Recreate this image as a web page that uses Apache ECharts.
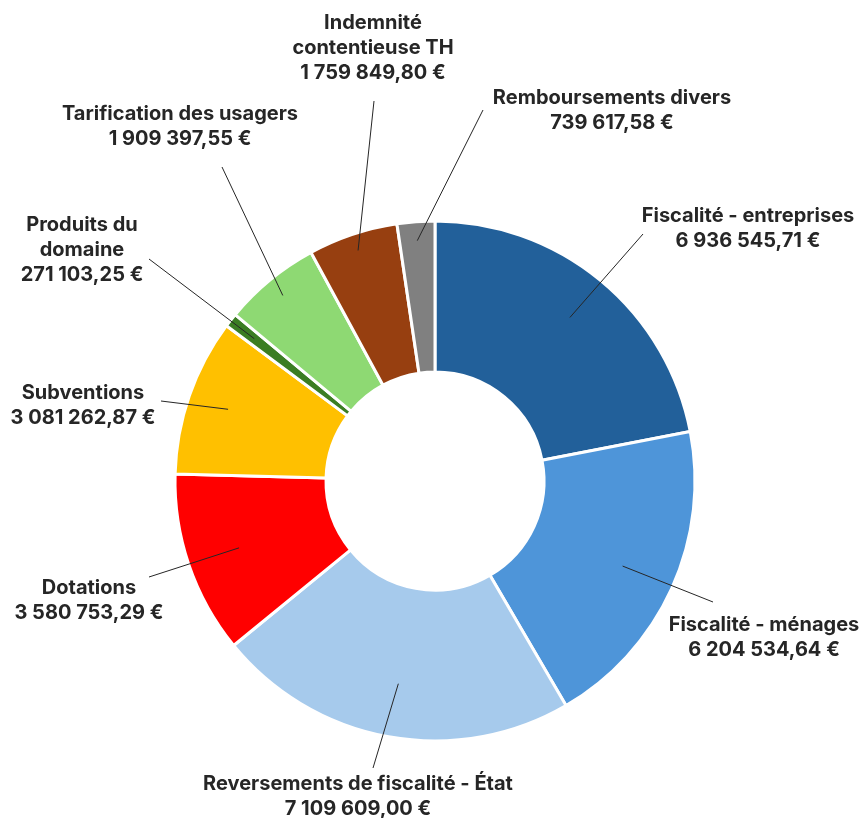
<!DOCTYPE html>
<html>
<head>
<meta charset="utf-8">
<title>Recettes</title>
<script src="https://cdn.jsdelivr.net/npm/echarts@6/dist/echarts.min.js"></script>
<style>
  html, body { margin: 0; padding: 0; background: #ffffff; }
  #chart { width: 868px; height: 818px; }
</style>
</head>
<body>
<div id="chart"></div>
<script>
// categories (line breaks as in the original labels)
const categories = [
  'Fiscalité - entreprises',
  'Fiscalité - ménages',
  'Reversements de fiscalité - État',
  'Dotations',
  'Subventions',
  'Produits du\ndomaine',
  'Tarification des usagers',
  'Indemnité\ncontentieuse TH',
  'Remboursements divers'
]
// montants en euros
const amounts = [
  6936545.71,
  6204534.64,
  7109609.00,
  3580753.29,
  3081262.87,
  271103.25,
  1909397.55,
  1759849.80,
  739617.58
]
const sliceColors = ['#22609a', '#4e95d9', '#a6caec', '#ff0000', '#ffc000', '#3b7d23', '#8ed973', '#973f10', '#808080']

// placement des étiquettes (centre du texte) et fin des traits de rappel, en px
const labelAt = [[748, 228], [764, 637], [358, 796], [89, 600], [83, 405], [82, 250], [180, 126], [373, 48], [612, 110]]
const lineEnd = [[643, 234], [713, 602], [373, 768], [149, 577], [161, 401], [149, 259], [222, 167], [374, 101], [483, 110]]
// rayon où démarre chaque trait de rappel
const lineStartR = [212, 206, 206, 207, 219, 230, 240, 243, 241]

const center = [435, 481]
const outerR = 260
const innerR = 109

// format français : 1 234 567,89 €
function euro (v) {
  const parts = v.toFixed(2).split('.')
  const ent = parts[0].replace(/\B(?=(\d{3})+(?!\d))/g, ' ')
  return ent + ',' + parts[1] + ' €'
}

const pieData = categories.map((name, i) => ({
  name: name,
  value: amounts[i],
  itemStyle: { color: sliceColors[i] }
}))

const chart = echarts.init(document.getElementById('chart'))
const option = {
  animation: false,
  backgroundColor: '#ffffff',
  series: [
    // l'anneau
    {
      type: 'pie',
      z: 2,
      center: center,
      radius: [innerR, outerR],
      startAngle: 90,
      clockwise: true,
      itemStyle: {
        borderColor: '#ffffff',
        borderWidth: 3
      },
      label: { show: false },
      labelLine: { show: false },
      emphasis: { disabled: true },
      data: pieData
    },
    // même anneau transparent, par-dessus, qui porte les étiquettes et traits
    {
      type: 'pie',
      z: 5,
      center: center,
      radius: [innerR, outerR],
      startAngle: 90,
      clockwise: true,
      silent: true,
      avoidLabelOverlap: false,
      itemStyle: { color: 'rgba(0,0,0,0)', borderWidth: 0 },
      label: {
        show: true,
        position: 'outside',
        formatter: function (p) {
          return p.name + '\n' + euro(p.value)
        },
        fontFamily: 'Inter',
        fontWeight: 'bold',
        fontSize: 20,
        lineHeight: 25,
        color: '#262626'
      },
      labelLine: {
        show: true,
        length: 20,
        length2: 10,
        lineStyle: { color: '#262626', width: 1 }
      },
      labelLayout: function (params) {
        const i = params.dataIndex
        const out = { x: labelAt[i][0], y: labelAt[i][1], align: 'center', verticalAlign: 'middle' }
        const pts = params.labelLinePoints
        if (pts && pts.length) {
          // le trait part de l'intérieur de la part, sur l'angle médian
          const k = lineStartR[i] / outerR
          const sx = center[0] + (pts[0][0] - center[0]) * k
          const sy = center[1] + (pts[0][1] - center[1]) * k
          out.labelLinePoints = [[sx, sy], lineEnd[i]]
        }
        return out
      },
      emphasis: { disabled: true },
      data: amounts.map((v, i) => ({ name: categories[i], value: v }))
    }
  ]
}
chart.setOption(option)
</script>
</body>
</html>
